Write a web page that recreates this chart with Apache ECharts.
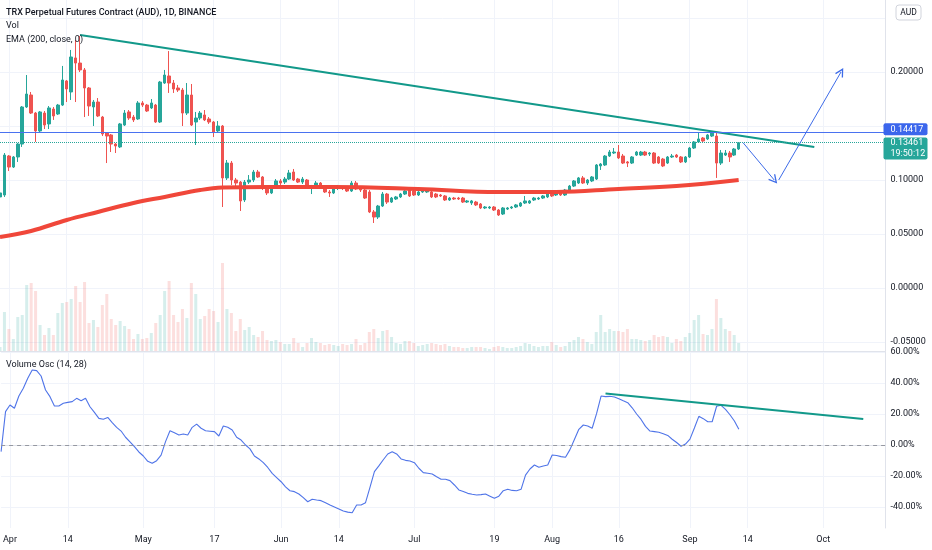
<!DOCTYPE html>
<html>
<head>
<meta charset="UTF-8">
<title>TRX Perpetual Futures Contract (AUD), 1D</title>
<script src="https://cdn.jsdelivr.net/npm/echarts@6/dist/echarts.min.js"></script>
</head>
<body style="margin:0">
<div id="container" style="width:932px;height:550px"></div>
<script>
// daily categories, 2021-03-30 onwards (the last ones stay empty, room for the drawings)
var startDay = Date.UTC(2021, 2, 30);
var dayCount = 200;
var dates = [];
for (var i = 0; i < dayCount; i++) {
    dates.push(new Date(startDay + i * 86400000).toISOString().slice(0, 10));
}

var tickLabels = {
    '2021-04-01': 'Apr', '2021-04-14': '14', '2021-05-01': 'May', '2021-05-17': '17',
    '2021-06-01': 'Jun', '2021-06-14': '14', '2021-07-01': 'Jul', '2021-07-19': '19',
    '2021-08-01': 'Aug', '2021-08-16': '16', '2021-09-01': 'Sep', '2021-09-14': '14',
    '2021-10-01': 'Oct'
};

// [open, close, low, high]
var candles = [
    [0.0843,0.0880,0.0824,0.0889],[0.0861,0.1231,0.0843,0.1250],[0.1222,0.1120,0.1083,0.1231],[0.1120,0.1213,0.1111,0.1222],[0.1213,0.1333,0.1167,0.1343],
    [0.1333,0.1676,0.1306,0.1685],[0.1676,0.1796,0.1667,0.1972],[0.1787,0.1620,0.1611,0.1815],[0.1620,0.1454,0.1352,0.1630],[0.1454,0.1630,0.1444,0.1639],
    [0.1620,0.1509,0.1472,0.1639],[0.1519,0.1667,0.1472,0.1685],[0.1657,0.1593,0.1556,0.1676],[0.1611,0.1694,0.1602,0.1704],[0.1694,0.1926,0.1685,0.2056],
    [0.1917,0.1843,0.1722,0.1926],[0.1815,0.2139,0.1741,0.2204],[0.2130,0.2083,0.1722,0.2296],[0.2083,0.2019,0.2000,0.2333],[0.2019,0.1852,0.1583,0.2037],
    [0.1852,0.1685,0.1593,0.1861],[0.1676,0.1722,0.1500,0.1741],[0.1722,0.1593,0.1583,0.1759],[0.1583,0.1426,0.1407,0.1593],[0.1435,0.1407,0.1157,0.1444],
    [0.1417,0.1333,0.1259,0.1426],[0.1333,0.1315,0.1250,0.1343],[0.1306,0.1519,0.1296,0.1528],[0.1509,0.1620,0.1500,0.1648],[0.1630,0.1574,0.1556,0.1648],
    [0.1583,0.1556,0.1537,0.1602],[0.1565,0.1713,0.1556,0.1731],[0.1713,0.1694,0.1676,0.1731],[0.1694,0.1639,0.1630,0.1704],[0.1667,0.1713,0.1657,0.1750],
    [0.1694,0.1537,0.1528,0.1704],[0.1537,0.1907,0.1528,0.1917],[0.1898,0.1972,0.1889,0.2019],[0.1963,0.1898,0.1806,0.2194],[0.1898,0.1843,0.1806,0.1926],
    [0.1852,0.1833,0.1815,0.1880],[0.1833,0.1620,0.1500,0.1852],[0.1620,0.1787,0.1602,0.1898],[0.1787,0.1509,0.1500,0.1889],[0.1537,0.1574,0.1324,0.1630],
    [0.1574,0.1620,0.1556,0.1639],[0.1602,0.1556,0.1546,0.1648],[0.1565,0.1537,0.1519,0.1583],[0.1537,0.1444,0.1398,0.1546],[0.1454,0.1500,0.1444,0.1546],
    [0.1500,0.1019,0.0750,0.1509],[0.1019,0.1157,0.1000,0.1185],[0.1157,0.1000,0.0954,0.1176],[0.1000,0.0972,0.0944,0.1019],[0.0981,0.0806,0.0713,0.0991],
    [0.0815,0.0981,0.0796,0.1000],[0.0981,0.1000,0.0963,0.1046],[0.1000,0.1074,0.0981,0.1093],[0.1074,0.1028,0.1019,0.1093],[0.1028,0.0926,0.0907,0.1037],
    [0.0926,0.0880,0.0861,0.0935],[0.0880,0.0935,0.0870,0.0944],[0.0926,0.0991,0.0917,0.1009],[0.0991,0.0972,0.0954,0.1009],[0.0981,0.1009,0.0963,0.1028],
    [0.1009,0.1065,0.1000,0.1093],[0.1074,0.1000,0.0991,0.1102],[0.1009,0.0981,0.0972,0.1019],[0.0981,0.1009,0.0963,0.1028],[0.1000,0.0935,0.0926,0.1009],
    [0.0926,0.0935,0.0870,0.0954],[0.0935,0.0972,0.0926,0.0991],[0.0972,0.0935,0.0926,0.0981],[0.0935,0.0889,0.0880,0.0944],[0.0889,0.0880,0.0843,0.0907],
    [0.0880,0.0926,0.0870,0.0935],[0.0926,0.0935,0.0907,0.0954],[0.0935,0.0926,0.0907,0.0944],[0.0935,0.0898,0.0889,0.0944],[0.0898,0.0972,0.0889,0.0991],
    [0.0972,0.0917,0.0907,0.0991],[0.0926,0.0907,0.0889,0.0935],[0.0907,0.0833,0.0824,0.0917],[0.0889,0.0704,0.0694,0.0907],[0.0704,0.0657,0.0602,0.0722],
    [0.0657,0.0759,0.0639,0.0769],[0.0759,0.0870,0.0750,0.0889],[0.0870,0.0796,0.0778,0.0880],[0.0796,0.0833,0.0787,0.0843],[0.0824,0.0843,0.0815,0.0852],
    [0.0843,0.0870,0.0833,0.0880],[0.0870,0.0898,0.0861,0.0907],[0.0907,0.0852,0.0843,0.0917],[0.0898,0.0861,0.0852,0.0907],[0.0861,0.0889,0.0852,0.0898],
    [0.0889,0.0898,0.0880,0.0917],[0.0889,0.0907,0.0880,0.0926],[0.0889,0.0843,0.0833,0.0898],[0.0870,0.0843,0.0833,0.0880],[0.0861,0.0852,0.0843,0.0870],
    [0.0852,0.0815,0.0806,0.0861],[0.0815,0.0833,0.0806,0.0843],[0.0833,0.0824,0.0815,0.0843],[0.0833,0.0824,0.0815,0.0843],[0.0833,0.0796,0.0787,0.0843],
    [0.0796,0.0806,0.0787,0.0815],[0.0787,0.0806,0.0769,0.0815],[0.0796,0.0769,0.0759,0.0806],[0.0778,0.0741,0.0731,0.0787],[0.0741,0.0750,0.0731,0.0759],
    [0.0741,0.0750,0.0731,0.0759],[0.0750,0.0722,0.0713,0.0759],[0.0722,0.0676,0.0667,0.0731],[0.0685,0.0741,0.0676,0.0750],[0.0731,0.0741,0.0722,0.0750],
    [0.0741,0.0750,0.0731,0.0759],[0.0750,0.0769,0.0741,0.0778],[0.0759,0.0787,0.0750,0.0796],[0.0787,0.0806,0.0778,0.0852],[0.0787,0.0806,0.0778,0.0815],
    [0.0815,0.0833,0.0806,0.0843],[0.0824,0.0833,0.0815,0.0843],[0.0833,0.0852,0.0824,0.0861],[0.0843,0.0870,0.0833,0.0880],[0.0870,0.0852,0.0843,0.0880],
    [0.0861,0.0880,0.0852,0.0889],[0.0880,0.0861,0.0852,0.0889],[0.0861,0.0907,0.0852,0.0917],[0.0907,0.0944,0.0898,0.0954],[0.0944,0.0991,0.0935,0.1000],
    [0.0972,0.1019,0.0963,0.1028],[0.1019,0.0972,0.0963,0.1037],[0.0972,0.1000,0.0954,0.1009],[0.0991,0.1028,0.0981,0.1037],[0.1009,0.1139,0.1000,0.1148],
    [0.1130,0.1148,0.1093,0.1157],[0.1139,0.1222,0.1130,0.1231],[0.1222,0.1259,0.1213,0.1278],[0.1250,0.1259,0.1241,0.1296],[0.1259,0.1204,0.1194,0.1324],
    [0.1222,0.1157,0.1148,0.1241],[0.1167,0.1157,0.1120,0.1176],[0.1157,0.1213,0.1148,0.1222],[0.1231,0.1259,0.1222,0.1269],[0.1231,0.1259,0.1222,0.1269],
    [0.1259,0.1231,0.1222,0.1269],[0.1241,0.1250,0.1222,0.1259],[0.1250,0.1157,0.1148,0.1259],[0.1213,0.1157,0.1148,0.1222],[0.1194,0.1130,0.1120,0.1204],
    [0.1157,0.1213,0.1148,0.1222],[0.1213,0.1222,0.1204,0.1241],[0.1231,0.1213,0.1204,0.1241],[0.1213,0.1167,0.1157,0.1222],[0.1167,0.1213,0.1157,0.1222],
    [0.1213,0.1296,0.1204,0.1306],[0.1296,0.1352,0.1287,0.1361],[0.1352,0.1380,0.1343,0.1435],[0.1389,0.1361,0.1352,0.1398],[0.1380,0.1417,0.1370,0.1426],
    [0.1407,0.1435,0.1398,0.1454],[0.1407,0.1157,0.1019,0.1444],[0.1157,0.1250,0.1139,0.1278],[0.1231,0.1250,0.1222,0.1278],[0.1250,0.1213,0.1167,0.1269],
    [0.1231,0.1287,0.1222,0.1296],[0.1287,0.1346,0.1278,0.1352]
];

var volumes = [
    4, 39, 22, 12, 34, 36, 66, 68, 60, 26,
    16, 23, 16, 38, 48, 49, 52, 65, 49, 69,
    28, 31, 24, 46, 57, 32, 26, 30, 25, 22,
    12, 17, 12, 13, 18, 28, 36, 60, 70, 36,
    29, 42, 33, 68, 57, 32, 35, 42, 40, 29,
    88, 42, 38, 20, 32, 21, 24, 16, 14, 20,
    11, 10, 11, 9, 7, 7, 13, 8, 4, 8,
    13, 9, 8, 6, 7, 6, 5, 7, 6, 7,
    12, 6, 8, 19, 22, 13, 20, 21, 14, 8,
    7, 10, 10, 8, 5, 6, 7, 8, 7, 6,
    7, 5, 4, 4, 3, 3, 4, 4, 4, 3,
    2, 4, 5, 4, 3, 3, 4, 5, 8, 7,
    5, 4, 5, 5, 9, 6, 4, 5, 9, 11,
    14, 12, 9, 7, 19, 36, 19, 22, 20, 20,
    19, 22, 12, 12, 11, 10, 11, 16, 14, 15,
    14, 8, 12, 10, 14, 18, 31, 36, 17, 16,
    22, 52, 33, 22, 20, 16, 8
];

var emaPoints = [
    ['2021-03-30', 0.0472], ['2021-04-06', 0.0528], ['2021-04-14', 0.0630], ['2021-04-21', 0.0704],
    ['2021-04-29', 0.0787], ['2021-05-06', 0.0843], ['2021-05-14', 0.0907], ['2021-05-19', 0.0930],
    ['2021-05-29', 0.0935], ['2021-06-13', 0.0935], ['2021-07-02', 0.0917], ['2021-07-20', 0.0889],
    ['2021-08-02', 0.0889], ['2021-08-16', 0.0917], ['2021-08-29', 0.0944], ['2021-09-12', 0.1000]
];

var oscValues = [
    -4.3, 21.5, 25.8, 23.7, 31.6, 36.6, 43, 48.4, 48, 44.5,
    35.5, 31.2, 25.2, 25.2, 26.9, 27.5, 28, 30.1, 28.6, 30.1,
    24.7, 21, 17.2, 16.6, 17.8, 14.5, 11.4, 9, 5, 2,
    -1.1, -4.5, -7.1, -10.5, -11.8, -10.1, -6.5, 2.2, 9.2, 7.9,
    6.5, 7.1, 6.5, 11.4, 13.5, 10.8, 9.2, 8.9, 8.6, 5.8,
    12.3, 11.4, 9.7, 5, 3.2, 0, -2.5, -7.1, -9, -11.4,
    -14.5, -18.3, -21, -23.7, -27, -29.5, -30.1, -31.6, -34, -36.6,
    -35, -35.5, -35.9, -37.3, -38.7, -40, -41.3, -42.6, -43.3, -43.7,
    -38.7, -38.7, -37.2, -27.3, -17.2, -13.5, -9.5, -5.8, -4.3, -5.8,
    -9, -9.9, -10.3, -11.4, -15, -17.8, -18.2, -18.7, -20.5, -22.1,
    -22.1, -23, -25.8, -29, -30, -31.2, -31.8, -32.3, -32, -31.6,
    -33, -34.4, -33, -29.5, -28.6, -29.3, -29.5, -28.6, -19.4, -15.5,
    -12.9, -14.4, -13.5, -12.9, -6.5, -6.8, -7.5, -7.9, -3, 3.5,
    10.1, 12.9, 12.3, 10.8, 20.4, 31.6, 31.2, 31.4, 31, 29.8,
    28.5, 27.3, 24, 20, 16.5, 12, 9, 8.6, 8.2, 7.3,
    6.2, 3.7, 1.6, -0.8, 0.6, 3.8, 11, 18.5, 17, 15,
    15, 25, 25.6, 23, 19.5, 15.5, 10.1
];
var oscTicks = [-40, -20, 0, 20, 40, 60];

// drawings on the chart
var resistanceLine = [['2021-04-17', 0.2343], ['2021-09-29', 0.1306]];
var oscTrendLine = [['2021-08-13', 33.3], ['2021-10-10', 16.8]];
var arrowDown = [['2021-09-13', 0.1345], ['2021-09-20', 0.1000]];
var arrowUp = [['2021-09-21', 0.1000], ['2021-10-05', 0.2000]];
var levelPrice = 0.14417;
var lastPrice = 0.13461;
var countdown = '19:50:12';

var upColor = '#26a69a';
var downColor = '#ef5350';
var gridColor = '#f0f3fa';
var borderColor = '#e0e3eb';
var textColor = '#131722';
var chevron = 'path://M5,0L10,8.6L8.8,9.4L5,2.8L1.2,9.4L0,8.6Z';

var isTick = function (idx, val) { return tickLabels[val] !== undefined; };

var chart = echarts.init(document.getElementById('container'));
var option = {
    animation: false,
    textStyle: {fontFamily: 'Roboto, sans-serif'},
    title: [
        {text: 'TRX Perpetual Futures Contract (AUD), 1D, BINANCE', left: 6, top: 8, padding: 0,
            textStyle: {fontSize: 9, fontWeight: 500, color: textColor}},
        {text: 'Vol', left: 6, top: 21.5, padding: 0, textStyle: {fontSize: 9, fontWeight: 'normal', color: textColor}},
        {text: 'EMA (200, close, 0)', left: 6, top: 35.5, padding: 0, textStyle: {fontSize: 9, fontWeight: 'normal', color: textColor}},
        {text: 'Volume Osc (14, 28)', left: 6, top: 360.5, padding: 0, textStyle: {fontSize: 9, fontWeight: 'normal', color: textColor}}
    ],
    grid: [
        {left: 0, right: 46.5, top: 18, bottom: 208},
        {left: 0, right: 46.5, top: 0, bottom: 199},
        {left: 0, right: 46.5, top: 352, bottom: 22}
    ],
    xAxis: [
        {type: 'category', gridIndex: 0, data: dates, boundaryGap: false,
            axisLine: {show: false}, axisTick: {show: false}, axisLabel: {show: false}, splitLine: {show: false}},
        {type: 'category', gridIndex: 1, data: dates, boundaryGap: false,
            axisLine: {lineStyle: {color: borderColor}}, axisTick: {show: false},
            axisLabel: {show: false, interval: isTick},
            splitLine: {show: true, interval: isTick, lineStyle: {color: gridColor}}},
        {type: 'category', gridIndex: 2, data: dates, boundaryGap: false,
            axisLine: {lineStyle: {color: borderColor}}, axisTick: {show: false},
            axisLabel: {interval: isTick, formatter: function (v) { return tickLabels[v]; },
                color: textColor, fontSize: 9, margin: 7},
            splitLine: {show: true, interval: isTick, lineStyle: {color: gridColor}}}
    ],
    yAxis: [
        {type: 'value', gridIndex: 0, position: 'right', min: -0.05, max: 0.25, interval: 0.05,
            axisLine: {show: false}, axisTick: {show: false},
            axisLabel: {color: textColor, fontSize: 9, margin: 5,
                formatter: function (v) {
                    if (Math.abs(v - 0.25) < 1e-9 || Math.abs(v - 0.15) < 1e-9) return '';
                    return v.toFixed(5);
                }},
            splitLine: {lineStyle: {color: gridColor}}},
        {type: 'value', gridIndex: 1, position: 'right', min: 0, max: 351,
            axisLine: {show: true, lineStyle: {color: borderColor}}, axisTick: {show: false},
            axisLabel: {show: false}, splitLine: {show: false}},
        {type: 'value', gridIndex: 2, position: 'right', min: -53.55, max: 60,
            axisLine: {show: true, lineStyle: {color: borderColor}},
            axisTick: {show: false, customValues: oscTicks},
            axisLabel: {customValues: oscTicks, color: textColor, fontSize: 9, margin: 5,
                formatter: function (v) { return v.toFixed(2) + '%'; }},
            splitLine: {lineStyle: {color: gridColor}}}
    ],
    series: [
        {
            name: 'Vol', type: 'bar', xAxisIndex: 1, yAxisIndex: 1, barWidth: 3,
            data: volumes.map(function (v, i) {
                var up = candles[i][1] >= candles[i][0];
                return {value: v, itemStyle: {color: up ? 'rgba(38,166,154,0.19)' : 'rgba(239,83,80,0.19)'}};
            })
        },
        {
            name: 'TRXAUD', type: 'candlestick', xAxisIndex: 0, yAxisIndex: 0, barWidth: 3,
            data: candles,
            itemStyle: {color: upColor, color0: downColor, borderColor: upColor, borderColor0: downColor, borderWidth: 1},
            markLine: {
                silent: true, symbol: 'none', label: {show: false}, precision: 5,
                data: [
                    {yAxis: levelPrice, lineStyle: {color: '#4a72f0', width: 1.2, type: 'solid'}},
                    {yAxis: lastPrice, lineStyle: {color: upColor, width: 1, type: 'dotted'}}
                ]
            }
        },
        {
            name: 'EMA', type: 'line', xAxisIndex: 0, yAxisIndex: 0, data: emaPoints,
            showSymbol: false, smooth: 0.4, lineStyle: {color: '#f0473a', width: 4}
        },
        {
            name: 'Trend', type: 'line', xAxisIndex: 0, yAxisIndex: 0, data: resistanceLine,
            showSymbol: false, lineStyle: {color: '#12998a', width: 2},
            markLine: {
                silent: true, symbol: ['none', chevron], symbolSize: 9, label: {show: false}, precision: 5,
                lineStyle: {color: '#3d6be8', width: 1, type: 'solid'},
                data: [
                    [{coord: arrowDown[0]}, {coord: arrowDown[1]}],
                    [{coord: arrowUp[0]}, {coord: arrowUp[1]}]
                ]
            }
        },
        {
            name: 'Volume Osc', type: 'line', xAxisIndex: 2, yAxisIndex: 2, data: oscValues,
            showSymbol: false, lineStyle: {color: '#4f74e8', width: 1.1},
            markLine: {
                silent: true, symbol: 'none', label: {show: false},
                data: [{yAxis: 0, lineStyle: {color: '#9598a1', width: 1, type: [4, 4]}}]
            }
        },
        {
            name: 'Osc Trend', type: 'line', xAxisIndex: 2, yAxisIndex: 2, data: oscTrendLine,
            showSymbol: false, lineStyle: {color: '#12998a', width: 2}
        }
    ]
};
chart.setOption(option);

// price scale labels, placed through the axis scale
var edgeX = chart.convertToPixel({xAxisIndex: 0}, dates[dates.length - 1]);
var yLevel = chart.convertToPixel({yAxisIndex: 0}, levelPrice);
var yLast = chart.convertToPixel({yAxisIndex: 0}, lastPrice);
chart.setOption({
    graphic: [
        {type: 'rect', shape: {x: edgeX - 2, y: yLevel - 9, width: 44, height: 12, r: 2}, style: {fill: '#3b66ec'}, z: 100},
        {type: 'text', x: edgeX + 5, y: yLevel - 3, z: 101,
            style: {text: levelPrice.toFixed(5), fill: '#ffffff', fontSize: 9, fontFamily: 'Roboto, sans-serif', verticalAlign: 'middle'}},
        {type: 'rect', shape: {x: edgeX - 2, y: yLast - 5, width: 44, height: 22, r: 2}, style: {fill: '#26a69a'}, z: 100},
        {type: 'text', x: edgeX + 5, y: yLast + 0.5, z: 101,
            style: {text: lastPrice.toFixed(5), fill: '#ffffff', fontSize: 9, fontFamily: 'Roboto, sans-serif', verticalAlign: 'middle'}},
        {type: 'text', x: edgeX + 5, y: yLast + 11, z: 101,
            style: {text: countdown, fill: '#ffffff', fontSize: 9, fontFamily: 'Roboto, sans-serif', verticalAlign: 'middle'}},
        {type: 'rect', shape: {x: 896, y: 5, width: 25, height: 15, r: 3}, style: {fill: '#ffffff', stroke: '#d1d4dc', lineWidth: 1}, z: 100},
        {type: 'text', x: 908.5, y: 12.5, z: 101,
            style: {text: 'AUD', fill: textColor, fontSize: 8.5, fontFamily: 'Roboto, sans-serif', align: 'center', verticalAlign: 'middle'}}
    ]
});
</script>
</body>
</html>
